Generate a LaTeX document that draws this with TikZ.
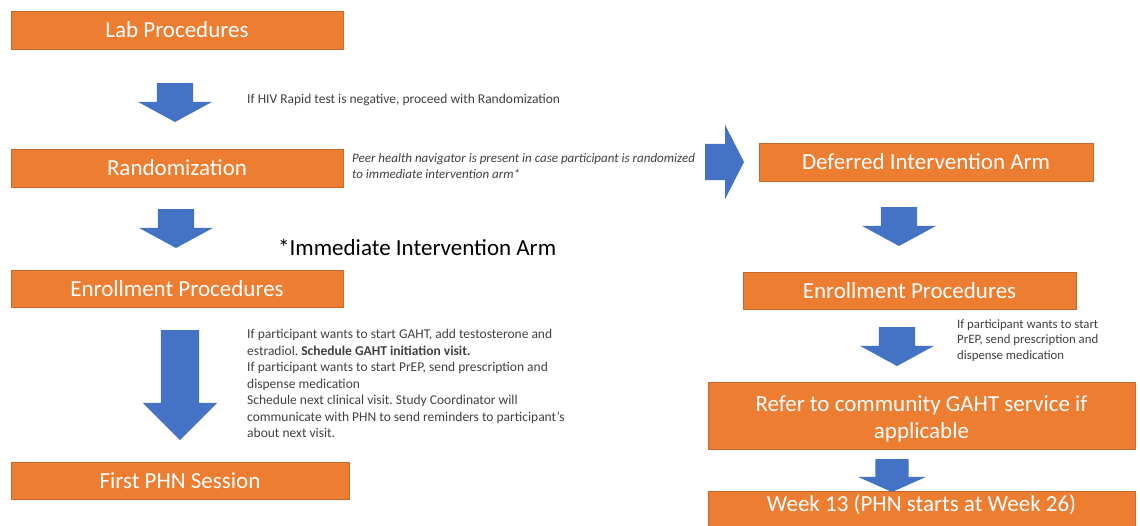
\documentclass[tikz,border=0pt]{standalone}
\usepackage{fontspec}
\setmainfont{Carlito}
\usetikzlibrary{shapes.arrows}
\frenchspacing

\definecolor{boxorange}{HTML}{ED7D31}
\definecolor{boxedge}{HTML}{C5692D}
\definecolor{arrowblue}{HTML}{4472C4}
\definecolor{notegray}{HTML}{404040}

\tikzset{
  stepbox/.style={draw=boxedge, line width=1pt, fill=boxorange, text=white, rectangle,
    minimum height=38pt, inner sep=0pt, align=center, font=\fontsize{23}{27}\selectfont},
  linebox/.style={stepbox, text height=15pt, text depth=0pt},
  blockarrow/.style={single arrow, fill=arrowblue, anchor=tail, outer sep=0pt,
    inner xsep=0pt, inner ysep=18pt, single arrow head extend=19pt,
    single arrow tip angle=123, minimum height=39pt},
  blockdown/.style={blockarrow, rotate=-90},
  note/.style={anchor=west, align=left, inner sep=0pt, text=notegray,
    font=\fontsize{13.5}{16.5}\selectfont},
}

\begin{document}
\begin{tikzpicture}[x=1pt, y=-1pt]
    \useasboundingbox (0,0) rectangle (1140,525);
    \clip (0,0) rectangle (1140,525);

        % Define boxes in the left column (immediate arm)
        \node[linebox, minimum width=332pt] (lab) at (177,30) {Lab Procedures};
        \node[linebox, minimum width=332pt] (rand) at (177,168) {Randomization};
        \node[linebox, minimum width=332pt, minimum height=37pt] (enrollA) at (177,288.5) {Enrollment Procedures};
        \node[linebox, minimum width=338pt, minimum height=37pt] (phn) at (180,480.5) {First PHN Session};

        % Define boxes in the right column (deferred arm)
        \node[linebox, minimum width=334pt] (defer) at (926,162) {Deferred Intervention Arm};
        \node[linebox, minimum width=333pt, minimum height=37pt] (enrollB) at (909.5,290.5) {Enrollment Procedures};
        \node[stepbox, minimum width=427pt, minimum height=67pt, text height=45pt, text depth=0pt] (refer) at (921.5,415.5) {Refer to community GAHT service if\\applicable};
        \node[stepbox, anchor=north, minimum width=427pt, text height=20pt, text depth=22pt] (week) at (921.5,491) {Week 13 (PHN starts at Week 26)};

        % Define the notes next to the arrows
        \node[note] (hivnote) at (247,100) {If HIV Rapid test is negative, proceed with Randomization};
        \node[note, font=\fontsize{13}{16}\selectfont\itshape] (peernote) at (352,166) {Peer health navigator is present in case participant is randomized\\to immediate intervention arm*};
        \node[anchor=west, inner sep=0pt, font=\fontsize{23}{27}\selectfont] (armnote) at (278,247) {*Immediate Intervention Arm};
        \node[note] (gahtnote) at (247,383.5) {If participant wants to start GAHT, add testosterone and\\estradiol. \textbf{Schedule GAHT initiation visit.}\\If participant wants to start PrEP, send prescription and\\dispense medication\\Schedule next clinical visit. Study Coordinator will\\communicate with PHN to send reminders to participant’s\\about next visit.};
        \node[note, font=\fontsize{12.8}{15.6}\selectfont] (prepnote) at (957,340.5) {If participant wants to start\\PrEP, send prescription and\\dispense medication};

        % Draw block arrows of the left column
        \node[blockdown] (labarrow) at (175,83) {};
        \node[blockdown] (randarrow) at (176,209) {};
        \node[blockdown, inner ysep=19pt, single arrow head extend=18pt,
          single arrow tip angle=90, minimum height=110pt] (enrollarrowA) at (180,330) {};

        % Draw block arrows of the right column
        \node[blockarrow, single arrow tip angle=126] (deferarrow) at (705,162) {};
        \node[blockdown] (deferdown) at (899,207) {};
        \node[blockdown] (enrollarrowB) at (897,327) {};
        \node[blockdown, inner ysep=16.5pt, single arrow head extend=17.5pt,
          single arrow tip angle=132, minimum height=33pt] (referarrow) at (892,459) {};

    \end{tikzpicture}
\end{document}
